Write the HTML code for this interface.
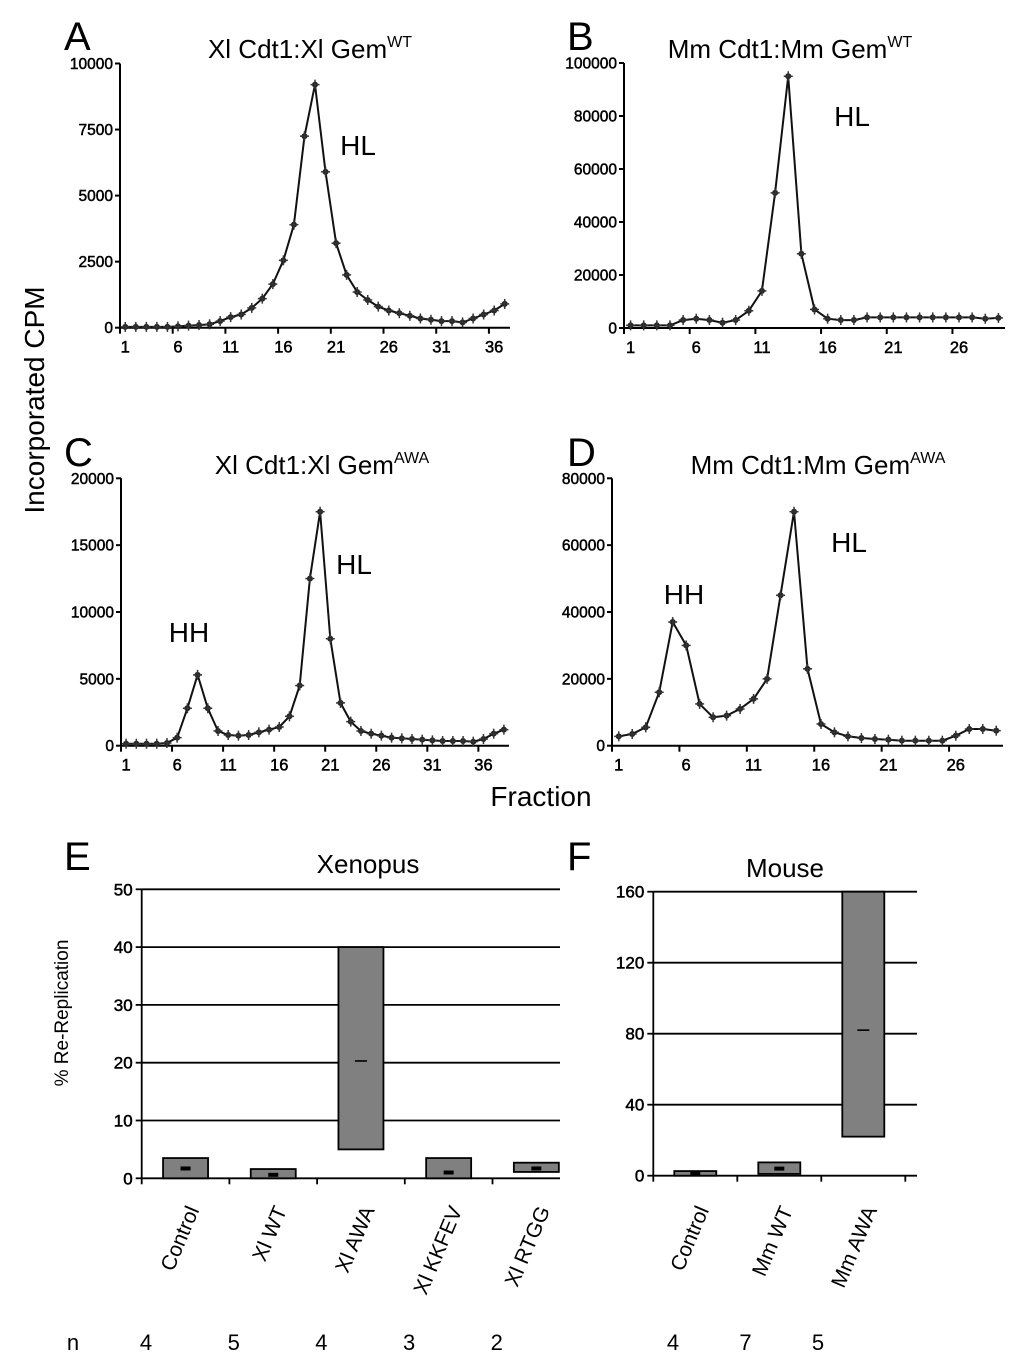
<!DOCTYPE html>
<html><head><meta charset="utf-8"><style>
html,body{margin:0;padding:0;background:#fff}
svg{display:block;font-family:"Liberation Sans",Arial,sans-serif}
</style></head><body>
<svg id="fig" width="1024" height="1371" viewBox="0 0 1024 1371" xmlns="http://www.w3.org/2000/svg">
<g id="static">
<text x="64" y="50" font-size="40">A</text>
<text x="567" y="50" font-size="40">B</text>
<text x="64" y="466" font-size="40">C</text>
<text x="567" y="466" font-size="40">D</text>
<text x="64" y="870" font-size="40">E</text>
<text x="567" y="870" font-size="40">F</text>
<text x="310" y="58" font-size="26" text-anchor="middle">Xl Cdt1:Xl Gem<tspan font-size="16" dy="-11">WT</tspan></text>
<text x="790" y="58" font-size="26" text-anchor="middle">Mm Cdt1:Mm Gem<tspan font-size="16" dy="-11">WT</tspan></text>
<text x="322" y="474" font-size="26" text-anchor="middle">Xl Cdt1:Xl Gem<tspan font-size="16" dy="-11">AWA</tspan></text>
<text x="818" y="474" font-size="26" text-anchor="middle">Mm Cdt1:Mm Gem<tspan font-size="16" dy="-11">AWA</tspan></text>
<text x="358" y="155" font-size="28" text-anchor="middle">HL</text>
<text x="852" y="126" font-size="28" text-anchor="middle">HL</text>
<text x="189" y="642" font-size="28" text-anchor="middle">HH</text>
<text x="354" y="574" font-size="28" text-anchor="middle">HL</text>
<text x="684" y="604" font-size="28" text-anchor="middle">HH</text>
<text x="849" y="552" font-size="28" text-anchor="middle">HL</text>
<text transform="translate(44,400) rotate(-90)" font-size="28" text-anchor="middle">Incorporated CPM</text>
<text x="541" y="806" font-size="28" text-anchor="middle">Fraction</text>
<text x="368" y="873" font-size="26" text-anchor="middle">Xenopus</text>
<text x="785" y="877" font-size="26" text-anchor="middle">Mouse</text>
<text transform="translate(68,1013) rotate(-90)" font-size="19" text-anchor="middle">% Re-Replication</text>
<text x="73" y="1350" font-size="22" text-anchor="middle">n</text>
</g>
<g id="charts"></g>
</svg>
<script>
// Line chart data
const fracA = [30,30,30,30,30,50,80,100,130,250,400,500,750,1100,1650,2550,3900,7250,9200,5900,3200,2000,1350,1050,800,650,550,450,350,300,250,250,200,350,500,650,900];
const fracB = [1000,1000,1000,1000,3000,3500,3000,2000,3000,6500,14000,51000,95000,28000,7000,3500,3000,3000,4000,4000,4000,4000,4000,4000,4000,4000,4000,3500,3800];
const fracC = [150,150,150,150,200,600,2800,5300,2800,1100,800,750,800,1000,1200,1400,2200,4500,12500,17500,8000,3200,1800,1100,900,750,600,550,500,450,400,350,350,350,300,500,900,1200];
const fracD = [2800,3500,5500,16000,37000,30000,12500,8500,9000,11000,14000,20000,45000,70000,23000,6500,4000,2800,2300,2000,1800,1500,1500,1500,1500,3000,5000,5000,4500];
const ticksA = [0,2500,5000,7500,10000];
const ticksB = [0,20000,40000,60000,80000,100000];
const ticksC = [0,5000,10000,15000,20000];
const ticksD = [0,20000,40000,60000,80000];
const xLabelsAC = [1,6,11,16,21,26,31,36];
const xLabelsBD = [1,6,11,16,21,26];
// Bar chart data (floating range bars with mean)
const catsE = ["Control","Xl WT","Xl AWA","Xl KKFEV","Xl RTGG"];
const lowE = [0,0,5,0,1.1];
const highE = [3.5,1.6,40,3.5,2.7];
const meanE = [1.7,0.6,20.3,1.0,1.7];
const nE = [4,5,4,3,2];
const ticksE = [0,10,20,30,40,50];
const catsF = ["Control","Mm WT","Mm AWA"];
const lowF = [0,1,22];
const highF = [2.6,7.5,160];
const meanF = [1.5,4,82];
const nF = [4,7,5];
const ticksF = [0,40,80,120,160];

const NS = "http://www.w3.org/2000/svg";
const root = document.getElementById('charts');
function el(tag, attrs, parent, txt){
  const e = document.createElementNS(NS, tag);
  for (const k in attrs) e.setAttribute(k, attrs[k]);
  if (txt !== undefined) e.textContent = txt;
  (parent||root).appendChild(e);
  return e;
}

function lineChart(id, data, ticks, xlabels, cfg){
  const g = el('g', {});
  
  
  const w = (cfg.x1 - cfg.x0) / data.length;
  const max = ticks[ticks.length-1];
  const xs = i => cfg.x0 + (i + 0.5) * w;
  const ys = v => cfg.yb - v / max * (cfg.yb - cfg.yt);
  const ya = el('line', {x1:cfg.x0, y1:cfg.yt, x2:cfg.x0, y2:cfg.yb, stroke:'#000', 'stroke-width':2}, g);
  
  
  const xa = el('line', {x1:cfg.x0, y1:cfg.yb, x2:cfg.x1, y2:cfg.yb, stroke:'#000', 'stroke-width':2}, g);
  
  
  ticks.forEach(t => {
    const y = ys(t);
    el('line', {x1:cfg.x0-5, y1:y, x2:cfg.x0, y2:y, stroke:'#000', 'stroke-width':2}, g);
    const tl = el('text', {x:cfg.x0-7, y:y+5.5, 'font-size':15.5, 'text-anchor':'end', stroke:'#000', 'stroke-width':0.5}, g, String(t));
    
    
  });
  xlabels.forEach(c => {
    const xt = cfg.x0 + (c-1) * w;
    el('line', {x1:xt, y1:cfg.yb, x2:xt, y2:cfg.yb+6, stroke:'#000', 'stroke-width':2}, g);
    const tl = el('text', {x:xs(c-1), y:cfg.yb+25, 'font-size':16.5, 'text-anchor':'middle', stroke:'#000', 'stroke-width':0.5}, g, String(c));
    
    
  });
  const pts = data.map((v,i) => xs(i).toFixed(1) + ',' + ys(v).toFixed(1)).join(' ');
  const pl = el('polyline', {points:pts, fill:'none', stroke:'#111', 'stroke-width':2}, g);
  
  
  data.forEach((v,i) => {
    const x = xs(i), y = ys(v);
    const m = el('g', {}, g);
    
    
    el('circle', {cx:x, cy:y, r:3, fill:'#222'}, m);
    el('line', {x1:x-4.5, y1:y, x2:x+4.5, y2:y, stroke:'#333', 'stroke-width':1.5}, m);
    el('line', {x1:x, y1:y-5, x2:x, y2:y+5, stroke:'#333', 'stroke-width':1.5}, m);
  });
}

lineChart('a', fracA, ticksA, xLabelsAC, {x0:120, x1:510, yt:63.5, yb:327.7});
lineChart('b', fracB, ticksB, xLabelsBD, {x0:624, x1:1005, yt:63, yb:328});
lineChart('c', fracC, ticksC, xLabelsAC, {x0:121, x1:509, yt:478.3, yb:745.7});
lineChart('d', fracD, ticksD, xLabelsBD, {x0:612, x1:1003, yt:478.3, yb:745.7});

function barChart(id, cats, low, high, mean, ns, ticks, cfg){
  const g = el('g', {});
  
  
  const max = ticks[ticks.length-1];
  const ys = v => cfg.yb - v / max * (cfg.yb - cfg.yt);
  const xs = i => cfg.x0 + (i + 0.5) * cfg.cw;
  ticks.forEach(t => {
    const y = ys(t);
    if (t > 0) {
      const gl = el('line', {x1:cfg.x0, y1:y, x2:cfg.x1, y2:y, stroke:'#000', 'stroke-width':1.8}, g);
      
      
    }
    el('line', {x1:cfg.x0-6, y1:y, x2:cfg.x0, y2:y, stroke:'#000', 'stroke-width':1.8}, g);
    const tl = el('text', {x:cfg.x0-9, y:y+6, 'font-size':17, 'text-anchor':'end', stroke:'#000', 'stroke-width':0.5}, g, String(t));
    
    
  });
  const ya = el('line', {x1:cfg.x0, y1:cfg.yt, x2:cfg.x0, y2:cfg.yb, stroke:'#000', 'stroke-width':1.8}, g);
  
  
  const xa = el('line', {x1:cfg.x0, y1:cfg.yb, x2:cfg.x1, y2:cfg.yb, stroke:'#000', 'stroke-width':1.8}, g);
  
  
  for (let i = 0; i <= cats.length; i++) {
    const xt = cfg.x0 + i * cfg.cw;
    if (xt <= cfg.x1 + 1) el('line', {x1:xt, y1:cfg.yb, x2:xt, y2:cfg.yb+6, stroke:'#000', 'stroke-width':1.8}, g);
  }
  cats.forEach((c,i) => {
    const cx = xs(i);
    const r = el('rect', {x:cx-cfg.bw/2, y:ys(high[i]), width:cfg.bw, height:ys(low[i])-ys(high[i]), fill:'#808080', stroke:'#000', 'stroke-width':1.8}, g);
    
    
    const thin = high[i] - low[i] > max * 0.3;
    const mk = el('rect', {x:cx-(thin?6:5), y:ys(mean[i])-(thin?0.8:2), width:thin?12:10, height:thin?1.6:4, fill:'#000'}, g);
    
    
    const lbl = el('text', {transform:'translate(' + (cx+14) + ',' + cfg.ly + ') rotate(-67)', 'font-size':21, 'text-anchor':'end'}, g, c);
    
    
    const nl = el('text', {x:cfg.nX0 + i * cfg.nStep, y:1350, 'font-size':22, 'text-anchor':'middle'}, g, String(ns[i]));
    
    
  });
}

barChart('e', catsE, lowE, highE, meanE, nE, ticksE, {x0:141.7, x1:560, cw:87.7, bw:45, yt:889.3, yb:1178.3, ly:1210, nX0:146, nStep:87.7});
barChart('f', catsF, lowF, highF, meanF, nF, ticksF, {x0:653.3, x1:917, cw:84, bw:42, yt:891.7, yb:1175.7, ly:1210, nX0:673, nStep:72.5});
</script>
</body></html>
